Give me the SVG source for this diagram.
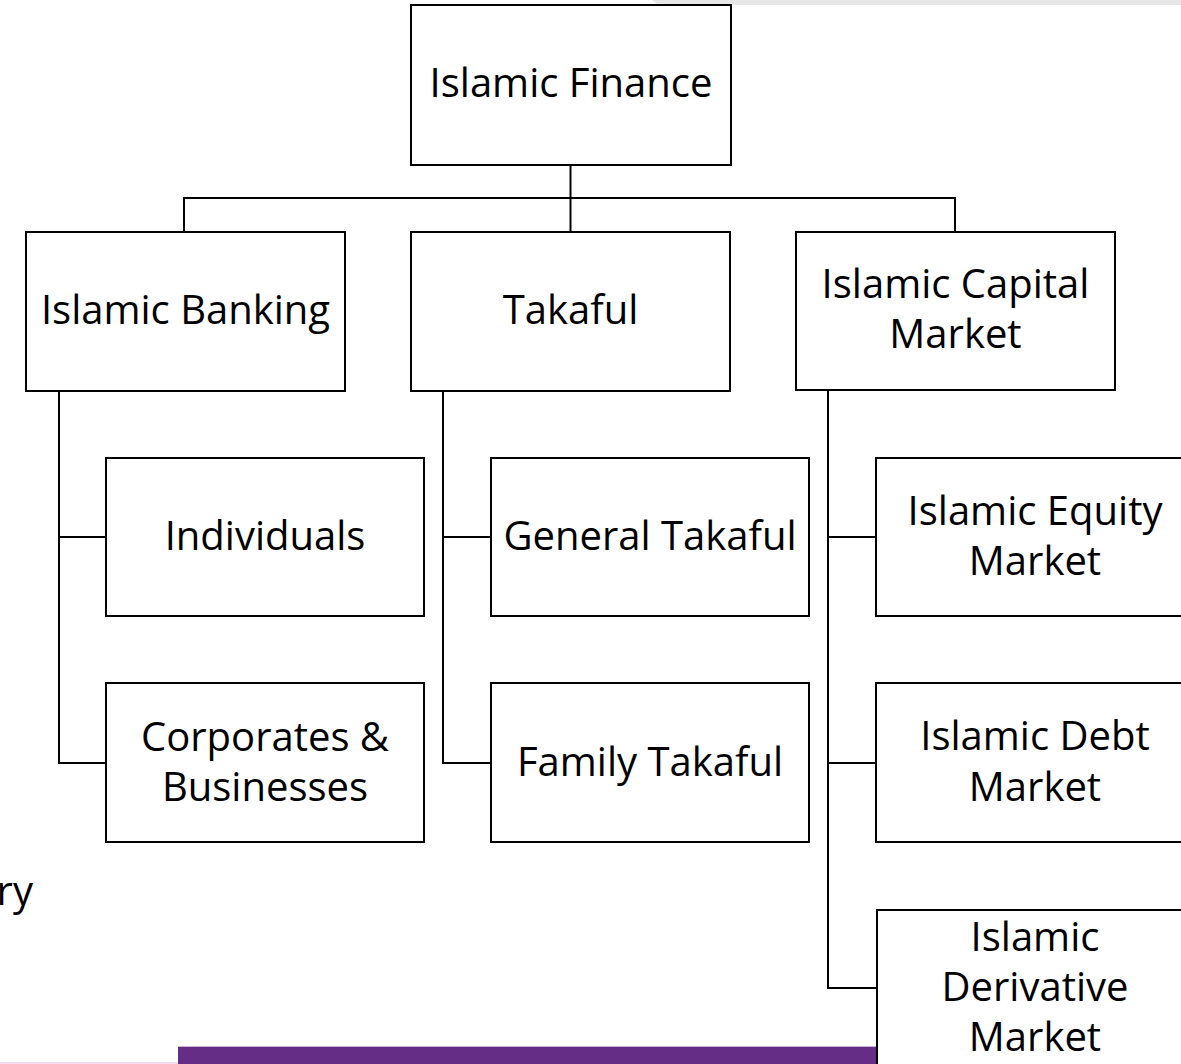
<svg xmlns="http://www.w3.org/2000/svg" width="1181" height="1064" viewBox="0 0 1181 1064">
  <style>
    .box { fill: #ffffff; stroke: #000000; stroke-width: 2; }
    .link { fill: none; stroke: #000000; stroke-width: 2; }
    .label { font-family: "Open Sans", "Noto Sans", "Liberation Sans", sans-serif; font-size: 40px; fill: #000000; text-anchor: middle; }
  </style>

  <!-- page background and slide chrome -->
  <rect x="0" y="0" width="1181" height="1064" fill="#ffffff"/>
  <polygon points="652,0 1181,0 1181,5 658,5" fill="#e6e6e6"/>
  <rect x="178" y="1046" width="1003" height="1" fill="#c9b6d6"/>
  <rect x="178" y="1047" width="1003" height="17" fill="#652d86"/>
  <rect x="0" y="1062" width="178" height="2" fill="#f4dcf0"/>
  <text class="label" x="33" y="905" style="text-anchor: end">ry</text>

  <!-- connectors -->
  <g id="connectors">
    <path class="link" d="M570.5 165 V232"/>
    <path class="link" d="M184 232 V198 H955 V232"/>
    <path class="link" d="M59 391 V763 H106 M59 537 H106"/>
    <path class="link" d="M443 391 V763 H491 M443 537 H491"/>
    <path class="link" d="M828 390 V988 H877 M828 537 H876 M828 763 H876"/>
  </g>

  <!-- root -->
  <g id="islamic-finance">
    <rect class="box" x="411" y="5" width="320" height="160"/>
    <text class="label" x="571" y="97">Islamic Finance</text>
  </g>

  <!-- sectors -->
  <g id="islamic-banking">
    <rect class="box" x="26" y="232" width="319" height="159"/>
    <text class="label" x="185.5" y="324">Islamic Banking</text>
  </g>
  <g id="takaful">
    <rect class="box" x="411" y="232" width="319" height="159"/>
    <text class="label" x="570.5" y="324">Takaful</text>
  </g>
  <g id="islamic-capital-market">
    <rect class="box" x="796" y="232" width="319" height="158"/>
    <text class="label" x="955.5" y="298">Islamic Capital</text>
    <text class="label" x="955.5" y="348">Market</text>
  </g>

  <!-- banking segments -->
  <g id="individuals">
    <rect class="box" x="106" y="458" width="318" height="158"/>
    <text class="label" x="265" y="550">Individuals</text>
  </g>
  <g id="corporates-businesses">
    <rect class="box" x="106" y="683" width="318" height="159"/>
    <text class="label" x="265" y="751">Corporates &amp;</text>
    <text class="label" x="265" y="801">Businesses</text>
  </g>

  <!-- takaful segments -->
  <g id="general-takaful">
    <rect class="box" x="491" y="458" width="318" height="158"/>
    <text class="label" x="650" y="550">General Takaful</text>
  </g>
  <g id="family-takaful">
    <rect class="box" x="491" y="683" width="318" height="159"/>
    <text class="label" x="650" y="776">Family Takaful</text>
  </g>

  <!-- capital market segments -->
  <g id="islamic-equity-market">
    <rect class="box" x="876" y="458" width="318" height="158"/>
    <text class="label" x="1035" y="525">Islamic Equity</text>
    <text class="label" x="1035" y="575">Market</text>
  </g>
  <g id="islamic-debt-market">
    <rect class="box" x="876" y="683" width="318" height="159"/>
    <text class="label" x="1035" y="750">Islamic Debt</text>
    <text class="label" x="1035" y="801">Market</text>
  </g>
  <g id="islamic-derivative-market">
    <rect class="box" x="877" y="910" width="318" height="159"/>
    <text class="label" x="1035" y="951">Islamic</text>
    <text class="label" x="1035" y="1001">Derivative</text>
    <text class="label" x="1035" y="1051">Market</text>
  </g>
</svg>
